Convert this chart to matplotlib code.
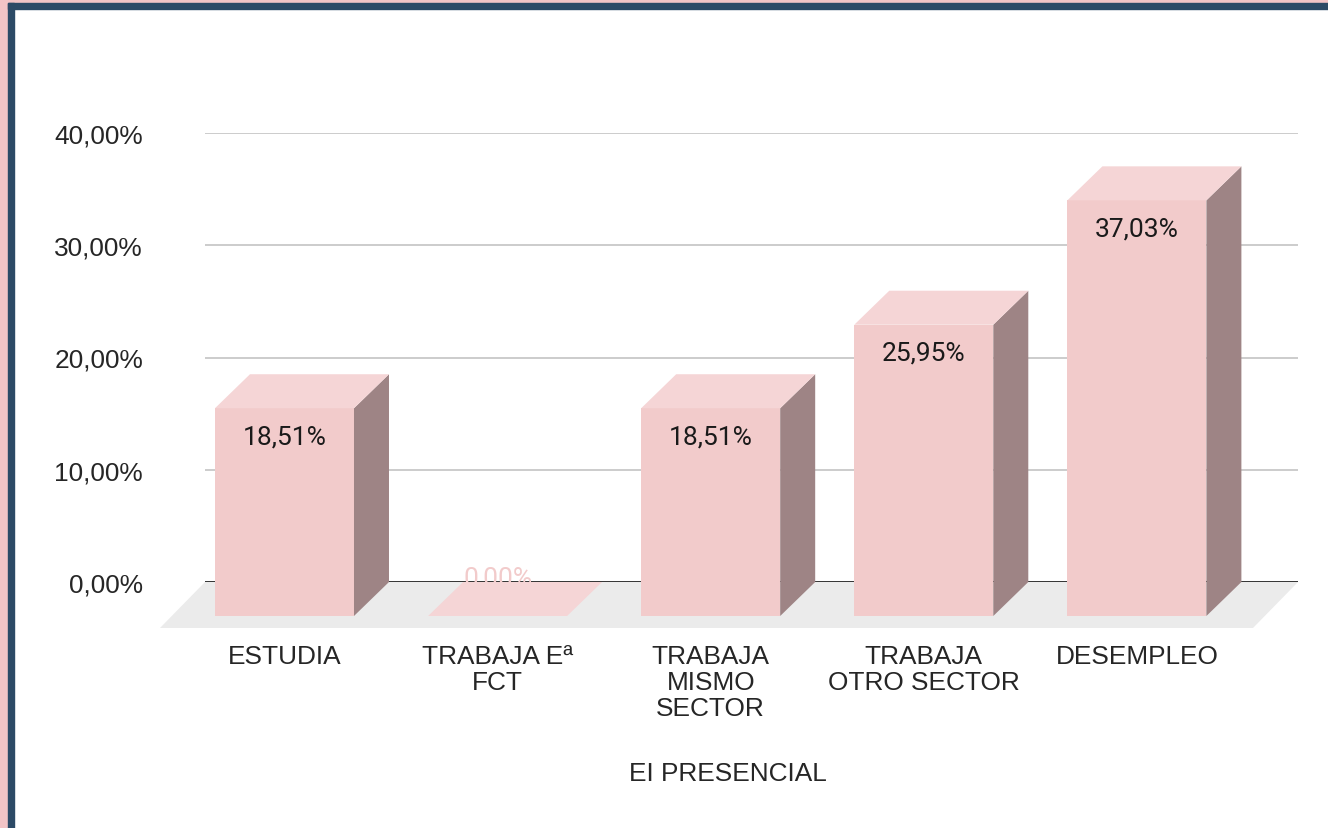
import matplotlib.pyplot as plt
from matplotlib.patches import Rectangle

# Datos
categorias = ['ESTUDIA', 'TRABAJA Eª\nFCT', 'TRABAJA\nMISMO\nSECTOR', 'TRABAJA\nOTRO SECTOR', 'DESEMPLEO']
valores = [18.51, 0.00, 18.51, 25.95, 37.03]
ticks_y = [0, 10, 20, 30, 40]
titulo_x = 'EI PRESENCIAL'

# Colores
c_frente = '#f2cbcb'
c_techo = '#f5d5d6'
c_lado = '#9e8485'
c_suelo = '#ebebeb'
c_texto = '#1a1a1a'

W, H = 1328, 829
fig = plt.figure(figsize=(W / 100, H / 100), dpi=100)

# marco de la imagen
fig.add_artist(Rectangle((0, 0), 8 / W, 1, transform=fig.transFigure, color='#f2c4c6', zorder=0))
fig.add_artist(Rectangle((0, 1 - 4 / H), 1, 4 / H, transform=fig.transFigure, color='#f2c4c6', zorder=0))
fig.add_artist(Rectangle((8 / W, 0), 6 / W, 1 - 4 / H, transform=fig.transFigure, color='#2c4a66', zorder=1))
fig.add_artist(Rectangle((8 / W, 1 - 10 / H), 1, 6 / H, transform=fig.transFigure, color='#2c4a66', zorder=1))

ax = fig.add_axes([205 / W, (H - 583) / H, 1093 / W, 449 / H])
xmin, xmax = -0.373, 4.756
ax.set_xlim(xmin, xmax)
ax.set_ylim(0, 40)

px_x = 1093 / (xmax - xmin)
px_y = 449 / 40
dx = 35 / px_x      # profundidad de las barras
dy = 34 / px_y
hw = 69.5 / px_x    # media anchura de la cara frontal

# suelo
fdx = 45 / px_x
fdy = 46 / px_y
ax.fill([xmin, xmax, xmax - fdx, xmin - fdx], [0, 0, -fdy, -fdy],
        color=c_suelo, clip_on=False, zorder=1, lw=0)

# lineas de cuadricula
for t in ticks_y:
    ax.axhline(t, color='#333333' if t == 0 else '#cccccc', lw=1.4, zorder=2 if t == 0 else 0.5)

for i, v in enumerate(valores):
    x0, x1 = i - hw, i + hw
    # cara frontal
    ax.fill([x0, x1, x1, x0], [-dy, -dy, v - dy, v - dy], color=c_frente, lw=0, clip_on=False, zorder=3)
    # lateral
    ax.fill([x1, x1 + dx, x1 + dx, x1], [-dy, 0, v, v - dy], color=c_lado, lw=0, clip_on=False, zorder=3)
    # etiqueta
    lbl = f'{v:.2f}'.replace('.', ',') + '%'
    if v > 5:
        ax.text(i, v - dy - 28 / px_y, lbl, ha='center', va='center', fontsize=19,
                family='Roboto', color=c_texto, zorder=5)
    else:
        ax.text(i, v - dy + 38 / px_y, lbl, ha='center', va='center', fontsize=19,
                family='Roboto', color=c_frente, zorder=2.5)
    # techo
    ax.fill([x0, x1, x1 + dx, x0 + dx], [v - dy, v - dy, v, v], color=c_techo, lw=0, clip_on=False, zorder=3)

ax.set_yticks(ticks_y)
ax.set_yticklabels([f'{t:.2f}'.replace('.', ',') + '%' for t in ticks_y])
ax.set_xticks(range(len(categorias)))
ax.set_xticklabels(categorias, linespacing=1.1)
ax.tick_params(axis='both', length=0, labelsize=18.9, labelcolor='#262626')
ax.tick_params(axis='y', pad=44.6)
ax.tick_params(axis='x', pad=45)
for lab in ax.get_xticklabels() + ax.get_yticklabels():
    lab.set_family('Liberation Sans')

ax.set_xlabel(titulo_x, fontsize=18.9, family='Liberation Sans', color='#262626')
ax.xaxis.set_label_coords((727.5 - 205) / 1093, -(774 - 583) / 449)
ax.xaxis.label.set_va('center')

for s in ax.spines.values():
    s.set_visible(False)
ax.grid(False)

fig.savefig('out.png', dpi=100)
